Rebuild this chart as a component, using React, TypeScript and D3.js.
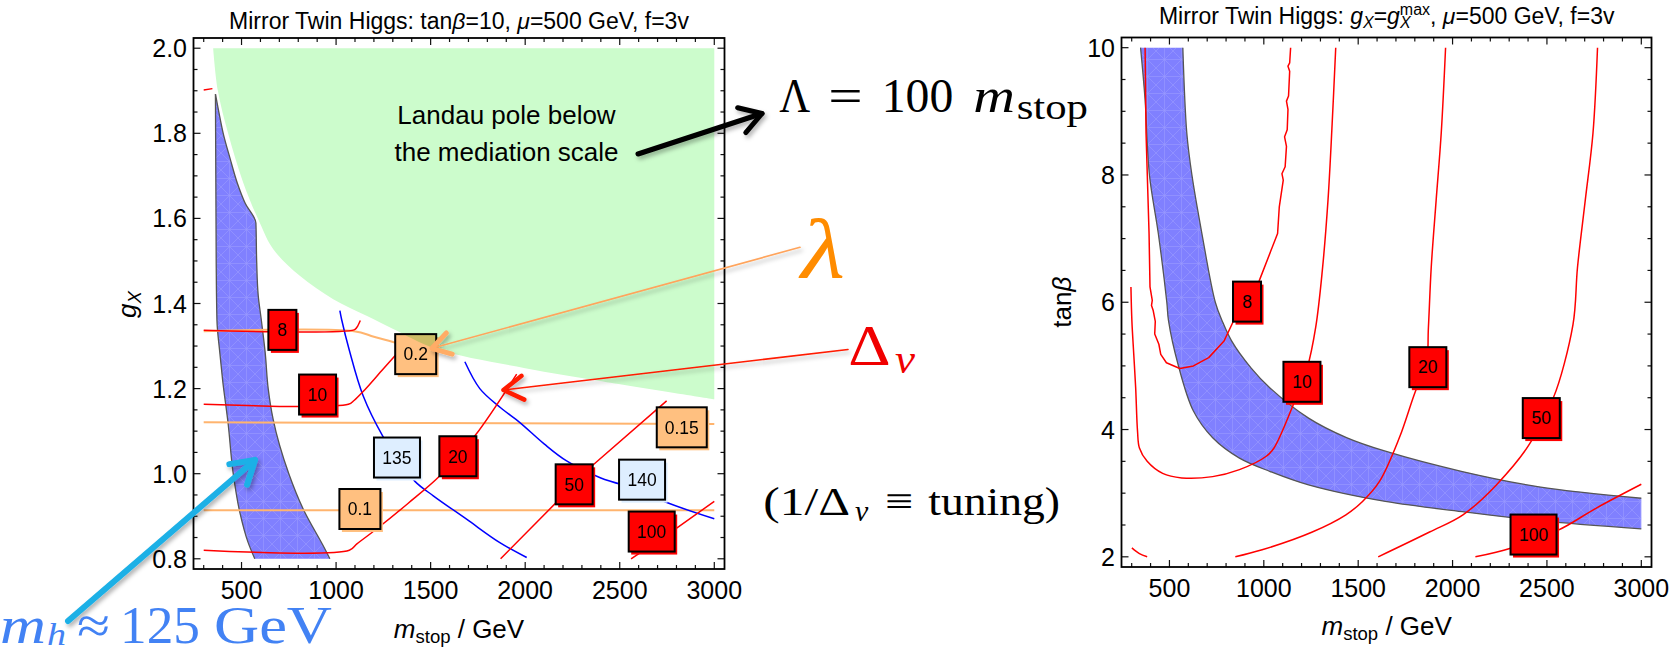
import React from "react";
import * as d3 from "d3";

type Pt = [number, number];

// ---------- axis ticks ----------
const massTicks = [500, 1000, 1500, 2000, 2500, 3000];
const gxTicks = [0.8, 1.0, 1.2, 1.4, 1.6, 1.8, 2.0];
const tanbTicks = [2, 4, 6, 8, 10];

// ---------- left panel: g_X vs m_stop (tanβ = 10) ----------
// Landau pole below the mediation scale: region above this edge
const landauEdge: Pt[] = [
  [350, 2.0], [375, 1.9], [429, 1.8], [509, 1.684], [597, 1.589], [667, 1.528],
  [808, 1.465], [985, 1.41], [1161, 1.371], [1302, 1.34], [1531, 1.293],
  [2000, 1.248], [2395, 1.218], [3000, 1.175],
];
// m_h ≈ 125 GeV band
const mhBandLeftInner: Pt[] = [
  [570, 0.8], [535, 0.838], [491, 0.909], [456, 1.0], [429, 1.118], [400, 1.22],
  [385, 1.285], [370, 1.36], [366, 1.5], [364, 1.7], [362, 1.892],
];
const mhBandLeftOuter: Pt[] = [
  [362, 1.892], [380, 1.85], [403, 1.8], [440, 1.74], [477, 1.684], [520, 1.635],
  [576, 1.589], [580, 1.5], [588, 1.42], [605, 1.36], [625, 1.285], [641, 1.2],
  [667, 1.128], [750, 1.0], [826, 0.917], [941, 0.823], [967, 0.8],
];
// Δv contours
const tuning8L: Pt[] = [[300, 1.337], [1095, 1.338], [1110, 1.344], [1128, 1.36]];
const tuning10L: Pt[] = [[300, 1.163], [1065, 1.163], [1095, 1.172], [1143, 1.193], [1249, 1.246], [1373, 1.308]];
const tuning20L: Pt[] = [[300, 0.82], [1070, 0.82], [1110, 0.835], [1214, 0.87], [1380, 0.93], [1549, 0.995], [1734, 1.089], [1955, 1.234]];
const tuning50L: Pt[] = [[1870, 0.8], [2157, 0.929], [2360, 1.021], [2748, 1.171]];
const tuning100L: Pt[] = [[2560, 0.8], [2801, 0.872], [3000, 0.935]];
const tuningStubL: Pt[] = [[300, 1.902], [346, 1.905]];
// Higgs mass contours
const mh135: Pt[] = [[1020, 1.383], [1029, 1.363], [1070, 1.29], [1143, 1.183], [1246, 1.089], [1322, 1.038], [1417, 0.982], [1514, 0.948], [1690, 0.893], [1866, 0.838], [2008, 0.803]];
const mh140: Pt[] = [[1681, 1.263], [1760, 1.2], [1870, 1.155], [1972, 1.12], [2100, 1.07], [2219, 1.03], [2400, 0.99], [2618, 0.96], [2739, 0.934], [3000, 0.894]];
// λ contours
const lambda01: Pt[] = [[300, 0.914], [3000, 0.914]];
const lambda015: Pt[] = [[300, 1.121], [3000, 1.117]];
const lambda02: Pt[] = [[300, 1.335], [1095, 1.335], [1200, 1.322], [1311, 1.308], [1421, 1.29]];

const tuningLabelsL = [
  { text: "8", m: 716, v: 1.338 },
  { text: "10", m: 902, v: 1.186 },
  { text: "20", m: 1644, v: 1.041 },
  { text: "50", m: 2259, v: 0.975 },
  { text: "100", m: 2669, v: 0.864 },
];
const higgsLabelsL = [
  { text: "135", m: 1322, v: 1.038 },
  { text: "140", m: 2618, v: 0.986 },
];
const lambdaLabelsL = [
  { text: "0.1", m: 1126, v: 0.917 },
  { text: "0.15", m: 2828, v: 1.109 },
  { text: "0.2", m: 1421, v: 1.281 },
];

// ---------- right panel: tanβ vs m_stop (g_X = g_X^max) ----------
const mhBandRightLower: Pt[] = [
  [347, 10], [371, 9.18], [394, 8], [441, 7.08], [486, 6], [495, 5.71], [545, 5.03],
  [627, 4.29], [729, 3.87], [871, 3.55], [1034, 3.34], [1237, 3.13], [1644, 2.87],
  [2052, 2.71], [2458, 2.57], [3000, 2.44],
];
const mhBandRightUpper: Pt[] = [
  [571, 10], [592, 8.66], [619, 8], [672, 7.08], [743, 6], [779, 5.71], [830, 5.39],
  [932, 4.97], [1034, 4.65], [1237, 4.18], [1441, 3.87], [1644, 3.66], [2052, 3.34],
  [2458, 3.1], [3000, 2.92],
];
const tuning8R: Pt[] = [
  [371, 10], [376, 8.66], [392, 7.08], [397, 6.24], [409, 6.03], [405, 5.95], [414, 5.87],
  [425, 5.7], [422, 5.5], [444, 5.34], [454, 5.18], [484, 5.05], [555, 4.96], [627, 5.0],
  [708, 5.13], [789, 5.39], [840, 5.71], [911, 6.02], [976, 6.34], [1073, 7.08], [1082, 7.5],
  [1103, 7.92], [1096, 8.02], [1113, 8.13], [1120, 8.45], [1110, 8.6], [1124, 8.71],
  [1128, 9.03], [1120, 9.16], [1131, 9.24], [1137, 9.63], [1128, 9.71], [1137, 9.76], [1142, 10],
];
const tuning10R: Pt[] = [
  [296, 6.24], [301, 5.71], [311, 5.18], [321, 4.66], [331, 3.97], [341, 3.71], [382, 3.5],
  [464, 3.31], [565, 3.24], [729, 3.26], [871, 3.37], [1013, 3.58], [1054, 3.71], [1156, 4.39],
  [1202, 4.75], [1230, 4.97], [1275, 5.61], [1310, 6.5], [1340, 7.6], [1362, 8.8], [1381, 10],
];
const tuning20R: Pt[] = [
  [1963, 10], [1940, 8.66], [1913, 7.6], [1887, 6.55], [1872, 5.6], [1860, 4.98], [1807, 4.63],
  [1718, 3.87], [1612, 3.18], [1523, 2.87], [1435, 2.66], [1257, 2.39], [991, 2.11], [849, 2.0],
];
const tuning50R: Pt[] = [
  [2768, 10], [2744, 8.66], [2703, 7.6], [2662, 6.55], [2638, 5.65], [2534, 4.5], [2470, 4.18],
  [2418, 3.82], [2232, 3.13], [2055, 2.66], [1878, 2.39], [1606, 2.0],
];
const tuning100R: Pt[] = [[2121, 2.0], [2303, 2.13], [2429, 2.3], [2560, 2.42], [2764, 2.77], [3000, 3.14]];
const tuningStubR: Pt[] = [[301, 2.14], [341, 2.05], [382, 2.0]];

const tuningLabelsR = [
  { text: "8", m: 911, v: 6.01 },
  { text: "10", m: 1202, v: 4.75 },
  { text: "20", m: 1869, v: 4.98 },
  { text: "50", m: 2470, v: 4.18 },
  { text: "100", m: 2429, v: 2.35 },
];

// ---------- layout ----------
const W = 1680;
const H = 653;
const L = { x: 193.5, y: 38, w: 531, h: 531 };
const R = { x: 1121.5, y: 37.5, w: 530, h: 529.5 };
const massDomain: Pt = [246, 3054];
const gxDomain: Pt = [0.776, 2.024];
const tanbDomain: Pt = [1.84, 10.16];

const sans = '"Liberation Sans", Arial, Helvetica, sans-serif';
const serif = '"Liberation Serif", "Times New Roman", serif';

const RED = "#ff0000";
const BLUE = "#0000ff";
const ORANGE_LINE = "#ffb46e";
const RED_BOX = "#ff0000";
const ORANGE_BOX = "#ffc080";
const BLUE_BOX = "#deeeff";
const BAND = "#8080ff";
const LANDAU = "#ccfccc";

const xL = d3.scaleLinear().domain(massDomain).range([L.x, L.x + L.w]);
const yL = d3.scaleLinear().domain(gxDomain).range([L.y + L.h, L.y]);
const xR = d3.scaleLinear().domain(massDomain).range([R.x, R.x + R.w]);
const yR = d3.scaleLinear().domain(tanbDomain).range([R.y + R.h, R.y]);

function pathOf(xs: any, ys: any, pts: Pt[], curve: any = d3.curveCatmullRom.alpha(0.5)) {
  return d3.line<Pt>().x((d) => xs(d[0])).y((d) => ys(d[1])).curve(curve)(pts) || "";
}

function bandPath(xs: any, ys: any, a: Pt[], b: Pt[], curve: any) {
  const pa = pathOf(xs, ys, a, curve);
  const pb = pathOf(xs, ys, b, curve).replace(/^M/, "L");
  return pa + pb + "Z";
}

function LabelBox({ cx, cy, text, fill }: { cx: number; cy: number; text: string; fill: string }) {
  const nd = text.replace(/\D/g, "").length;
  const ndot = (text.match(/\./g) || []).length;
  const w = 19 + 9 * nd + 4 * ndot;
  const h = 40;
  return (
    <g>
      <rect x={cx - w / 2 + 2.5} y={cy - h / 2 + 3} width={w} height={h} fill={fill} />
      <rect x={cx - w / 2} y={cy - h / 2} width={w} height={h} fill={fill} stroke="#000" strokeWidth={2} />
      <text x={cx} y={cy} dy="0.36em" textAnchor="middle" fontSize={17.5} fontFamily={sans} fill="#000">
        {text}
      </text>
    </g>
  );
}

const MAJ = 7;
const MIN = 4;

function Frame({ xs, ys, xMajor, xMinor, yMajor, yMinor, yFmt }: any) {
  const [left, right] = xs.range();
  const [bottom, top] = ys.range();
  const tk = { stroke: "#111", strokeWidth: 1.2 };
  return (
    <g>
      {xMinor.map((v: number) => (
        <g key={"xn" + v}>
          <line x1={xs(v)} x2={xs(v)} y1={bottom} y2={bottom - MIN} {...tk} />
          <line x1={xs(v)} x2={xs(v)} y1={top} y2={top + MIN} {...tk} />
        </g>
      ))}
      {xMajor.map((v: number) => (
        <g key={"xj" + v}>
          <line x1={xs(v)} x2={xs(v)} y1={bottom} y2={bottom - MAJ} {...tk} />
          <line x1={xs(v)} x2={xs(v)} y1={top} y2={top + MAJ} {...tk} />
          <text x={xs(v)} y={bottom + 29.5} textAnchor="middle" fontSize={25} fontFamily={sans} fill="#000">
            {String(v)}
          </text>
        </g>
      ))}
      {yMinor.map((v: number) => (
        <g key={"yn" + v}>
          <line x1={left} x2={left + MIN} y1={ys(v)} y2={ys(v)} {...tk} />
          <line x1={right} x2={right - MIN} y1={ys(v)} y2={ys(v)} {...tk} />
        </g>
      ))}
      {yMajor.map((v: number) => (
        <g key={"yj" + v}>
          <line x1={left} x2={left + MAJ} y1={ys(v)} y2={ys(v)} {...tk} />
          <line x1={right} x2={right - MAJ} y1={ys(v)} y2={ys(v)} {...tk} />
          <text x={left - 6.5} y={ys(v)} dy="0.36em" textAnchor="end" fontSize={25} fontFamily={sans} fill="#000">
            {yFmt(v)}
          </text>
        </g>
      ))}
      <rect x={left} y={top} width={right - left} height={bottom - top} fill="none" stroke="#000" strokeWidth={1.8} />
    </g>
  );
}

function Arrow({ x1, y1, x2, y2, color, width, headWidth, headLen, headColor }: any) {
  const ang = Math.atan2(y2 - y1, x2 - x1);
  const a = 0.55;
  const p1 = [x2 - headLen * Math.cos(ang - a), y2 - headLen * Math.sin(ang - a)];
  const p2 = [x2 - headLen * Math.cos(ang + a), y2 - headLen * Math.sin(ang + a)];
  return (
    <g filter="url(#shadow)">
      <line x1={x1} y1={y1} x2={x2} y2={y2} stroke={color} strokeWidth={width} strokeLinecap="round" />
      <polyline
        points={`${p1[0]},${p1[1]} ${x2},${y2} ${p2[0]},${p2[1]}`}
        fill="none"
        stroke={headColor || color}
        strokeWidth={headWidth}
        strokeLinecap="round"
        strokeLinejoin="round"
      />
    </g>
  );
}

const massMinor = d3.range(300, 3001, 100).filter((v) => v % 500 !== 0);
const gxMinor = d3.range(16, 41).map((k) => k * 0.05).filter((v) => Math.abs(v * 5 - Math.round(v * 5)) > 1e-6);
const tanbMinor = d3.range(2, 10.01, 0.5).filter((v) => v % 2 !== 0);

export default function App() {
  const linear = d3.curveLinear;
  const smooth = d3.curveCatmullRom.alpha(0.5);
  const edgeCurve = d3.curveMonotoneY;

  const landauPath = pathOf(xL, yL, landauEdge) + `L${xL(3000)},${yL(2.0)}Z`;

  const bandL = bandPath(xL, yL, mhBandLeftOuter, mhBandLeftInner, edgeCurve);
  const bandR = bandPath(xR, yR, mhBandRightLower, [...mhBandRightUpper].reverse(), smooth);

  const contour = (xs: any, ys: any, pts: Pt[], color: string, w: number, curve: any = smooth) => (
    <path d={pathOf(xs, ys, pts, curve)} fill="none" stroke={color} strokeWidth={w} strokeLinejoin="round" />
  );

  return (
    <svg
      width={W}
      height={H}
      viewBox={`0 0 ${W} ${H}`}
      style={{ position: "absolute", left: 0, top: 0, background: "#fff" }}
    >
      <defs>
        <pattern id="mesh" width="17" height="17" patternUnits="userSpaceOnUse">
          <path d="M0 0 L17 17 M17 0 L0 17 M0 8.5 H17 M8.5 0 V17" stroke="#b4b4ff" strokeWidth="0.6" opacity="0.5" />
        </pattern>
        <clipPath id="clipL">
          <rect x={L.x} y={L.y} width={L.w} height={L.h} />
        </clipPath>
        <clipPath id="clipR">
          <rect x={R.x} y={R.y} width={R.w} height={R.h} />
        </clipPath>
        <filter id="shadow" x="-20%" y="-20%" width="140%" height="140%">
          <feDropShadow dx="2" dy="3" stdDeviation="2" floodColor="#000" floodOpacity="0.3" />
        </filter>
      </defs>

      {/* ---------------- left panel ---------------- */}
      <text x={459} y={29.3} textAnchor="middle" fontSize={23} fontFamily={sans} fill="#000">
        Mirror Twin Higgs: tan<tspan fontStyle="italic">β</tspan>=10, <tspan fontStyle="italic">μ</tspan>=500 GeV, f=3v
      </text>

      <g clipPath="url(#clipL)">
        <path d={bandL} fill={BAND} />
        <path d={bandL} fill="url(#mesh)" />
        <path d={pathOf(xL, yL, mhBandLeftOuter, edgeCurve)} fill="none" stroke="#555" strokeWidth={1.3} />
        <path d={pathOf(xL, yL, mhBandLeftInner, edgeCurve)} fill="none" stroke="#555" strokeWidth={1.3} />

        {contour(xL, yL, lambda01, ORANGE_LINE, 2)}
        {contour(xL, yL, lambda015, ORANGE_LINE, 2)}
        {contour(xL, yL, lambda02, ORANGE_LINE, 2)}

        {contour(xL, yL, mh135, BLUE, 1.5)}
        {contour(xL, yL, mh140, BLUE, 1.5)}

        {contour(xL, yL, tuning8L, RED, 1.5)}
        {contour(xL, yL, tuning10L, RED, 1.5)}
        {contour(xL, yL, tuning20L, RED, 1.5)}
        {contour(xL, yL, tuning50L, RED, 1.5, linear)}
        {contour(xL, yL, tuning100L, RED, 1.5, linear)}
        {contour(xL, yL, tuningStubL, RED, 1.5, linear)}

        {lambdaLabelsL.map((d) => (
          <LabelBox key={"lam" + d.text} cx={xL(d.m)} cy={yL(d.v)} text={d.text} fill={ORANGE_BOX} />
        ))}
        {higgsLabelsL.map((d) => (
          <LabelBox key={"mh" + d.text} cx={xL(d.m)} cy={yL(d.v)} text={d.text} fill={BLUE_BOX} />
        ))}
        {tuningLabelsL.map((d) => (
          <LabelBox key={"dv" + d.text} cx={xL(d.m)} cy={yL(d.v)} text={d.text} fill={RED_BOX} />
        ))}

        <path d={landauPath} fill={LANDAU} style={{ mixBlendMode: "multiply" }} />
      </g>

      <Frame xs={xL} ys={yL} xMajor={massTicks} xMinor={massMinor} yMajor={gxTicks} yMinor={gxMinor} yFmt={d3.format(".1f")} />

      <text x={459} y={637.5} textAnchor="middle" fontSize={26} fontFamily={sans} fill="#000">
        <tspan fontStyle="italic">m</tspan>
        <tspan fontSize={18.5} dy={5}>stop</tspan>
        <tspan dy={-5}>{" / GeV"}</tspan>
      </text>
      <text transform={`translate(136,${L.y + L.h / 2 + 1}) rotate(-90)`} textAnchor="middle" fontSize={26} fontFamily={sans} fill="#000">
        <tspan fontStyle="italic">g</tspan>
        <tspan fontStyle="italic" fontSize={18.5} dy={5}>X</tspan>
      </text>

      <text textAnchor="middle" fontSize={26} fontFamily={sans} fill="#000">
        <tspan x={506.5} y={124}>Landau pole below</tspan>
        <tspan x={506.5} y={160.7}>the mediation scale</tspan>
      </text>

      {/* ---------------- right panel ---------------- */}
      <text x={1386.7} y={24} textAnchor="middle" fontSize={23} fontFamily={sans} fill="#000">
        Mirror Twin Higgs: <tspan fontStyle="italic">g</tspan>
        <tspan fontStyle="italic" fontSize={16} dy={4.3}>X</tspan>
        <tspan dy={-4.3}>=</tspan>
        <tspan fontStyle="italic">g</tspan>
        <tspan fontStyle="italic" fontSize={16} dy={4.3}>X</tspan>
        <tspan fontSize={16} dx={-10.7} dy={-13.3}>max</tspan>
        <tspan dy={9}>{", "}</tspan>
        <tspan fontStyle="italic">μ</tspan>=500 GeV, f=3v
      </text>

      <g clipPath="url(#clipR)">
        <path d={bandR} fill={BAND} />
        <path d={bandR} fill="url(#mesh)" />
        <path d={pathOf(xR, yR, mhBandRightLower)} fill="none" stroke="#555" strokeWidth={1.3} />
        <path d={pathOf(xR, yR, mhBandRightUpper)} fill="none" stroke="#555" strokeWidth={1.3} />

        {contour(xR, yR, tuning8R, RED, 1.5, linear)}
        {contour(xR, yR, tuning10R, RED, 1.5)}
        {contour(xR, yR, tuning20R, RED, 1.5)}
        {contour(xR, yR, tuning50R, RED, 1.5)}
        {contour(xR, yR, tuning100R, RED, 1.5)}
        {contour(xR, yR, tuningStubR, RED, 1.5)}

        {tuningLabelsR.map((d) => (
          <LabelBox key={"dvr" + d.text} cx={xR(d.m)} cy={yR(d.v)} text={d.text} fill={RED_BOX} />
        ))}
      </g>

      <Frame xs={xR} ys={yR} xMajor={massTicks} xMinor={massMinor} yMajor={tanbTicks} yMinor={tanbMinor} yFmt={(v: number) => String(v)} />

      <text x={1386.7} y={635} textAnchor="middle" fontSize={26} fontFamily={sans} fill="#000">
        <tspan fontStyle="italic">m</tspan>
        <tspan fontSize={18.5} dy={5}>stop</tspan>
        <tspan dy={-5}>{" / GeV"}</tspan>
      </text>
      <text transform={`translate(1071,${R.y + R.h / 2}) rotate(-90)`} textAnchor="middle" fontSize={26} fontFamily={sans} fill="#000">
        tan<tspan fontStyle="italic">β</tspan>
      </text>

      {/* ---------------- annotations ---------------- */}
      <Arrow x1={638} y1={154} x2={762} y2={113.5} color="#000" width={5} headWidth={5} headLen={25} />
      <text y={111.5} fontFamily={serif} fill="#000" fontSize={48}>
        <tspan x={779.3} textLength={31} lengthAdjust="spacingAndGlyphs">Λ</tspan>
        <tspan x={828.3} textLength={34.4} lengthAdjust="spacingAndGlyphs">=</tspan>
        <tspan x={881.7} textLength={71.6} lengthAdjust="spacingAndGlyphs">100</tspan>
        <tspan x={973.3} fontStyle="italic" textLength={41.7} lengthAdjust="spacingAndGlyphs">m</tspan>
        <tspan x={1016.7} y={118.5} fontSize={36} textLength={71.3} lengthAdjust="spacingAndGlyphs">stop</tspan>
      </text>

      <Arrow x1={800} y1={247.3} x2={432} y2={348.3} color="#ffa45c" width={1.6} headWidth={5} headLen={21} headColor="#ffac66" />
      <text x={801} y={276.7} fontFamily={serif} fontStyle="italic" fontSize={84} fill="#ff8c00" textLength={44} lengthAdjust="spacingAndGlyphs">
        λ
      </text>

      <Arrow x1={848} y1={349.5} x2={503.5} y2={390} color="#ff1a00" width={1.6} headWidth={4.5} headLen={23} />
      <text fontFamily={serif} fill="#f00000">
        <tspan x={848.3} y={365} fontSize={58} textLength={42.4} lengthAdjust="spacingAndGlyphs">Δ</tspan>
        <tspan x={895} y={373} fontSize={40} fontStyle="italic" textLength={20} lengthAdjust="spacingAndGlyphs">v</tspan>
      </text>

      <text fontFamily={serif} fill="#000" fontSize={41}>
        <tspan x={763.3} y={514.5} textLength={86.7} lengthAdjust="spacingAndGlyphs">(1/Δ</tspan>
        <tspan x={855} y={521} fontSize={30} fontStyle="italic" textLength={13.3} lengthAdjust="spacingAndGlyphs">v</tspan>
        <tspan x={885} y={514.5} textLength={28.3} lengthAdjust="spacingAndGlyphs">≡</tspan>
        <tspan x={928.3} y={514.5} textLength={131.7} lengthAdjust="spacingAndGlyphs">tuning)</tspan>
      </text>

      <Arrow x1={68} y1={621} x2={255} y2={460} color="#1cb0e6" width={6} headWidth={6} headLen={26} />
      <text fontFamily={serif} fill="#4282f4" fontSize={52}>
        <tspan x={0} y={643} fontStyle="italic" textLength={46} lengthAdjust="spacingAndGlyphs">m</tspan>
        <tspan x={47} y={645} fontSize={32} fontStyle="italic" textLength={19} lengthAdjust="spacingAndGlyphs">h</tspan>
        <tspan x={77} y={643} textLength={33} lengthAdjust="spacingAndGlyphs">≈</tspan>
        <tspan x={120} y={643} textLength={80} lengthAdjust="spacingAndGlyphs">125</tspan>
        <tspan x={214} y={643} textLength={118} lengthAdjust="spacingAndGlyphs">GeV</tspan>
      </text>
    </svg>
  );
}
